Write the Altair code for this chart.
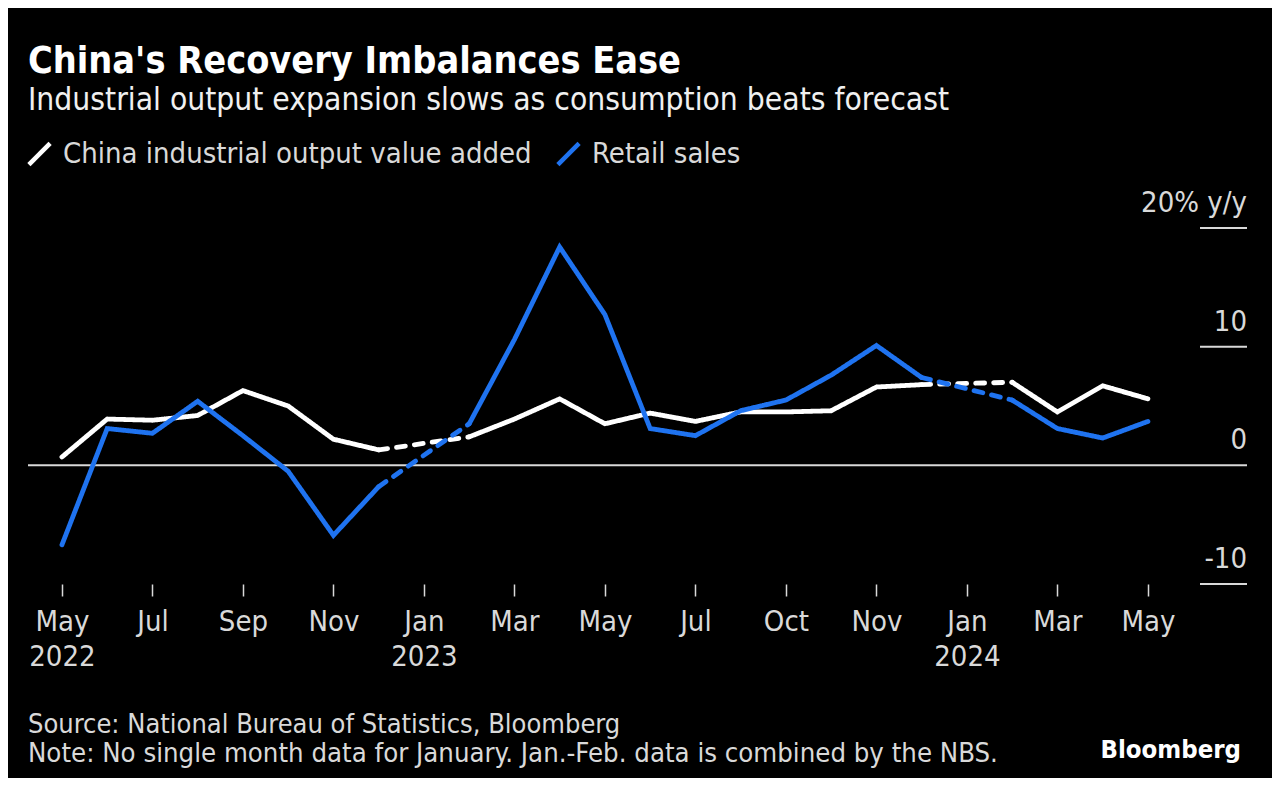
import altair as alt
import pandas as pd

# ---- data (month index: 0 = May 2022 ... 24 = May 2024; Jan-Feb combined plotted at Feb) ----
month_idx = [0, 1, 2, 3, 4, 5, 6, 7, 9, 10, 11, 12, 13, 14, 15, 16, 17, 18, 19, 21, 22, 23, 24]
industrial = [0.7, 3.9, 3.8, 4.2, 6.3, 5.0, 2.2, 1.3, 2.4, 3.9, 5.6, 3.5, 4.4, 3.7, 4.5, 4.5,
              4.6, 6.6, 6.8, 7.0, 4.5, 6.7, 5.6]
retail = [-6.7, 3.1, 2.7, 5.4, 2.5, -0.5, -5.9, -1.8, 3.5, 10.6, 18.4, 12.7, 3.1, 2.5, 4.6,
          5.5, 7.6, 10.1, 7.4, 5.5, 3.1, 2.3, 3.7]
series_names = ["China industrial output value added", "Retail sales"]
series_colors = ["#ffffff", "#1f73f0"]

tick_values = [0, 2, 4, 6, 8, 10, 12, 14, 16, 18, 20, 22, 24]
tick_months = ["May", "Jul", "Sep", "Nov", "Jan", "Mar", "May", "Jul", "Oct", "Nov", "Jan", "Mar", "May"]
tick_years = ["2022", "", "", "", "2023", "", "", "", "", "", "2024", "", ""]

y_ticks = [20, 10, 0, -10]
y_labels = ["20% y/y", "10", "0", "-10"]

title = "China's Recovery Imbalances Ease"
subtitle = "Industrial output expansion slows as consumption beats forecast"
source = "Source: National Bureau of Statistics, Bloomberg"
note = "Note: No single month data for January. Jan.-Feb. data is combined by the NBS."

# ---- build segments: solid runs and dashed bridges over missing January ----
rows = []
for name, vals in zip(series_names, [industrial, retail]):
    seg = 0
    for i, (m, v) in enumerate(zip(month_idx, vals)):
        if i > 0 and m - month_idx[i - 1] > 1:
            seg += 1
            rows.append(dict(series=name, seg=f"{name}-{seg}", style="dashed", m=month_idx[i - 1], v=vals[i - 1]))
            rows.append(dict(series=name, seg=f"{name}-{seg}", style="dashed", m=m, v=v))
            seg += 1
        rows.append(dict(series=name, seg=f"{name}-{seg}", style="solid", m=m, v=v))
df = pd.DataFrame(rows)

W, H = 1219, 356
FONT = "DejaVu Sans Condensed"
GREY = "#d9d9d9"

label_arr = "[" + ",".join(
    "[" + ",".join(f"'{s}'" for s in ([mo, yr] if yr else [mo])) + "]"
    for mo, yr in zip(tick_months, tick_years)) + "]"

x = alt.X("m:Q",
          scale=alt.Scale(domain=[-0.75, 26.19], nice=False, zero=False),
          axis=alt.Axis(values=tick_values, labelExpr=f"{label_arr}[datum.value/2]",
                        domain=False, grid=False, ticks=True, tickSize=12, tickColor=GREY,
                        tickWidth=1.5, labelPadding=11, labelFont=FONT, labelFontSize=29,
                        labelColor=GREY, labelLineHeight=35, labelBaseline="top", title=None))
y_scale = alt.Scale(domain=[-10, 20], nice=False, zero=False)

lines = alt.Chart(df).mark_line(strokeWidth=4.8, strokeCap="round").encode(
    x=x,
    y=alt.Y("v:Q", scale=y_scale, axis=None),
    color=alt.Color("series:N", scale=alt.Scale(domain=series_names, range=series_colors),
                    legend=alt.Legend(orient="none", legendX=-5, legendY=-89, direction="horizontal",
                                      title=None, symbolType="M-1,1L1,-1",
                                      symbolStrokeWidth=4.5, symbolSize=450,
                                      labelFont=FONT, labelFontSize=29, labelColor=GREY,
                                      labelLimit=0, columnPadding=16, symbolOffset=2,
                                      labelOffset=9)),
    strokeDash=alt.StrokeDash("style:N", scale=alt.Scale(domain=["solid", "dashed"],
                                                        range=[[1, 0], [9, 9]]), legend=None),
    detail="seg:N",
    order="m:Q",
)

ydf = pd.DataFrame({"v": y_ticks, "lab": y_labels})
ticks = alt.Chart(ydf).transform_filter("datum.v != 0").mark_rule(color=GREY, strokeWidth=2).encode(
    y=alt.Y("v:Q", scale=y_scale, axis=None), x=alt.value(W - 47), x2=alt.value(W))
zero = alt.Chart(ydf).transform_filter("datum.v == 0").mark_rule(color=GREY, strokeWidth=2).encode(
    y=alt.Y("v:Q", scale=y_scale, axis=None), x=alt.value(0), x2=alt.value(W))
ylab = alt.Chart(ydf).mark_text(align="right", baseline="alphabetic", dy=-16, font=FONT, fontSize=29,
                                color=GREY).encode(
    y=alt.Y("v:Q", scale=y_scale, axis=None), x=alt.value(W), text="lab:N")


def txt(s, xv, yv, size, bold=False, align="left", color=GREY):
    return alt.Chart(pd.DataFrame({"t": [s]})).mark_text(
        align=align, baseline="alphabetic", font=FONT, fontSize=size,
        fontWeight="bold" if bold else "normal", color=color).encode(
        x=alt.value(xv), y=alt.value(yv), text="t:N")


texts = [
    txt(title, 0, -155, 37.5, bold=True, color="#ffffff"),
    txt(subtitle, 0, -118, 31.5, color="#f0f0f0"),
    txt(source, 0, 505, 27),
    txt(note, 0, 534, 27.3),
    txt("Bloomberg", W - 6, 530, 25.5, bold=True, align="right", color="#ffffff"),
]

chart = alt.layer(zero, ticks, ylab, lines, *texts).properties(
    width=W, height=H,
    autosize=alt.AutoSizeParams(type="none"),
    padding={"left": 20, "top": 220, "right": 25, "bottom": 194},
).configure(background="black").configure_view(stroke=None)

chart.save("out.html", embed_options={"renderer": "svg", "actions": False})
